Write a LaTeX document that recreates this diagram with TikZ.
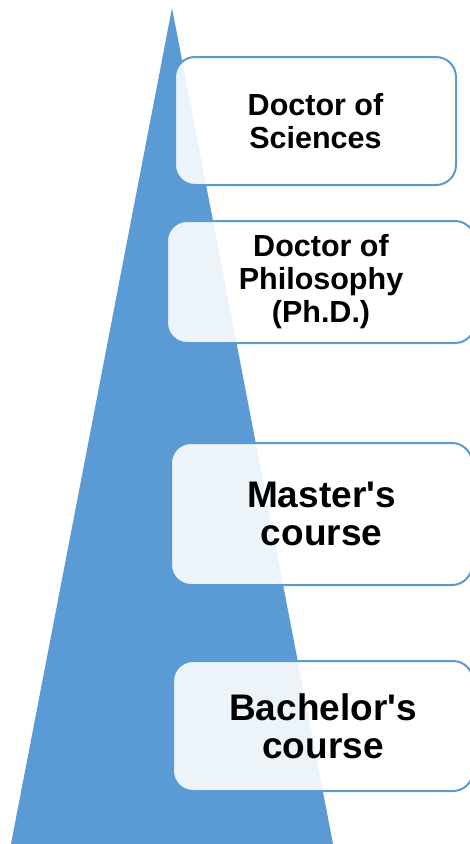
\documentclass[tikz,border=0pt]{standalone}
\usepackage{fontspec}
\setmainfont{Liberation Sans}[Ligatures=TeXOff]
\definecolor{levelblue}{HTML}{5B9BD5}
\begin{document}
\begin{tikzpicture}[x=1pt,y=-1pt,
  level/.style={draw=levelblue, line width=2pt, fill=white, fill opacity=0.89,
    text opacity=1, rounded corners=20pt, inner sep=0pt, outer sep=0pt,
    align=center, text=black},
  smalltext/.style={font=\fontsize{30.5}{33}\selectfont\bfseries},
  bigtext/.style={font=\fontsize{37}{38}\selectfont\bfseries}]
  \useasboundingbox (0,0) rectangle (470,844);
  % the pyramid behind the degree levels
  \coordinate (apex) at (172,8);
  \coordinate (baseL) at (11,844);
  \coordinate (baseR) at (333,844);
  \fill[levelblue] (apex) -- (baseL) -- (baseR) -- cycle;
  % degree levels, highest first
  \node[level, smalltext, minimum width=281pt, minimum height=128pt] (ds) at (315.5,121) {Doctor of\\Sciences};
  \node[level, smalltext, minimum width=308pt, minimum height=122pt] (phd) at (321,282) {Doctor of\\Philosophy\\(Ph.D.)};
  \node[level, bigtext, minimum width=301pt, minimum height=142pt] (ms) at (321.5,514) {Master's\\course};
  \node[level, bigtext, minimum width=300pt, minimum height=130pt] (bs) at (323,726) {Bachelor's\\course};
\end{tikzpicture}
\end{document}
